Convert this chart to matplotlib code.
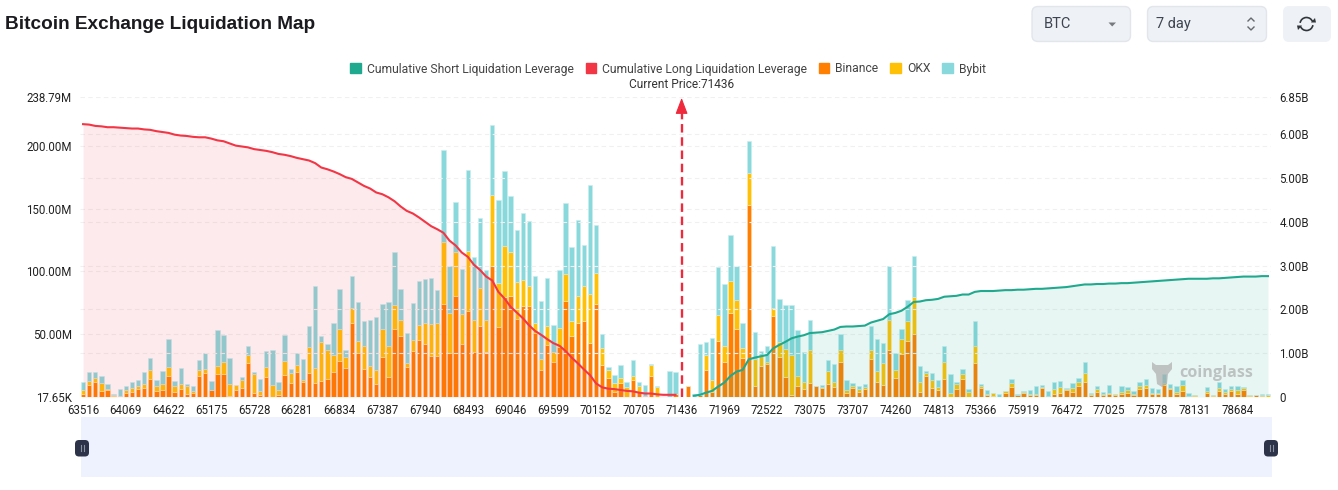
import matplotlib
matplotlib.use("Agg")
import matplotlib.pyplot as plt
from matplotlib.patches import FancyBboxPatch, Rectangle, Polygon, Ellipse, Arc, Patch
import numpy as np

W, H = 1338, 490
title = "Bitcoin Exchange Liquidation Map"
binance = [2.6,9.8,12.2,4.8,5.8,1,0,3.4,4,6.6,7.1,14.6,4.8,5.8,16.7,3.7,6.3,2.6,3.4,16.9,19,5.8,18.3,18.5,0.5,5.8,6.9,27.2,3.4,1.6,16.1,0.3,1.9,17.7,11.4,20.1,12.2,19.3,11.1,12.7,14,19.8,28.6,23,59,34.9,22.2,15.9,10.6,
 32,16.1,54,48.4,24,36.5,45.2,42,32.8,32.5,73.8,34.9,80.2,42,68.3,35.7,56.6,36.2,104.2,55.6,80,80.4,62.2,72.8,72.2,51,21.4,41.3,27.8,39.9,76.2,48.4,58.7,60.6,42.9,73.8,25.4,15.1,4.2,10.8,0.3,13.5,4,1,16.9,0,0.1,0.3,2.4,0,
 8.7,0,2,21.4,3.7,44.7,28,66.9,54,31,152.6,8.7,24.9,26.5,64.5,31.7,15.6,1.6,8.7,6.6,11.1,8.7,6.9,10.3,8.2,27.8,3.4,7.4,4.2,6.1,29.9,12.2,9.8,37.6,15.3,34.4,44.7,50.3,4.2,16.9,7.4,5.8,14.3,0,6.1,14.6,0,27.2,7.4,1.6,
 0.8,0,3.4,8.2,1.3,3.2,1.6,1.3,7.1,1,2.6,3.4,5.8,4.2,8.7,12.2,1.3,4.2,1.3,2.6,1.9,2.6,3.4,1.3,6.6,7.4,2.6,2.4,9.5,6.1,2.6,4.8,0.5,0.8,0.1,3.4,0.8,5,2.1,5,2.6,5.8,1,1.3,1,0.3]
okx = [2.9,2.9,3.2,6.1,0.3,0.8,0.5,2.1,3.2,1.9,3.4,6.9,4.2,4.5,7.1,5.3,3.7,6.3,1.1,4.8,3.7,0,6.6,9.5,9.8,3.4,6.9,6.1,15.1,3.2,7.4,9.5,4,10.8,7.4,5,1.6,20.6,12.2,30.7,23.3,14,25.7,8.5,11.9,9.3,18.8,9,10.6,
 22,24.6,19.6,12.7,3.4,8.7,12.4,16.9,25.4,26.2,49.2,31.7,34.9,24.1,47.9,25.9,29.9,25.1,56.9,35.4,40,34.7,29.6,20.6,16.4,7.9,8.5,15.6,8.2,15.3,22,11.9,21.9,27.5,39.4,25.1,13.8,6.6,6.9,4,7.4,3.4,5,0,8.5,8.2,0,0.1,0,0,
 0,0,0,11.9,9.5,20.9,12.4,25.1,23,8.2,25.4,21.2,7.7,1.6,6.3,11.9,22.5,31.7,7.9,5.3,26.5,0,1.3,10.3,4,9.5,2.4,1.6,1.9,1.6,7.7,8.2,17.5,23.8,6.3,11.6,15.6,29.4,7.9,2.1,5.8,1.9,13.8,3.4,4.5,4,4.2,13.5,1.3,0.5,
 2.4,0,1,2.6,0.5,0.5,1,1.3,0.8,0,4,4.5,0.8,3.2,3.4,7.1,0.8,1.9,1.3,0.5,0.5,1.6,2.1,1.3,2.4,1.9,0.3,0.5,1.9,1.3,1.6,4.5,0.5,0.5,0,1.3,0.5,2.4,1.9,1,3.2,1.6,0.3,0,0.3,1]
bybit = [6.6,6.9,4.8,6.1,4.5,0.8,5.8,2.9,4.8,4.8,9.5,9.8,4.8,10.2,22,3.4,13,1.1,4,7.4,12.4,6.9,28.3,21.4,20.4,0.2,2.4,7.7,1.1,9.8,13.5,27.8,6.1,21.2,3.7,9.8,16.1,16.9,64.8,5.3,4.8,24.9,31.5,5.6,25.7,31.7,19.8,36.2,42.6,
 20.4,34.9,42,24.6,23.8,29.4,34.4,34.9,36.5,26.2,73.5,37.6,40.2,36,64.8,49.5,56.1,39.9,55.3,65.6,60,45.2,41.5,53.2,51.6,37.6,46.8,37.6,21.4,46,56.1,59.3,60,33,86.5,38.4,10.8,1.9,6.6,10.3,4,12.2,2.6,8.5,0.5,0.3,0.1,20.3,17.7,0,
 0,2.1,40,10.6,34.1,37.6,49.7,36.8,27,19.8,25.4,22.2,3.7,12.7,49.5,34.1,34.9,40.2,36.8,24.3,24.1,0,1.6,8.5,14,13.2,7.4,2.1,2.9,2.4,19,25.7,15.6,42.6,13.8,8.5,16.7,32.3,12.4,1.6,5.8,5.8,12.2,15.3,1.3,3.7,2.1,20.1,1.6,3.4,
 0.3,2.1,0.3,3.4,0.3,0.8,2.9,6.1,1.6,3.7,5,4.5,0.8,3.4,2.9,8.5,1,2.6,1.3,6.1,0,4.5,2.6,2.1,3.2,5,4,3.2,6.9,2.9,4.5,4,1.9,0,0.1,3.2,0.3,4.5,2.6,2.6,2.9,0.5,0,0,0.8,0.8]
long_cum = [6.23,6.22,6.19,6.18,6.16,6.16,6.15,6.14,6.13,6.13,6.11,6.10,6.07,6.05,6.03,5.99,5.97,5.96,5.94,5.93,5.93,5.90,5.86,5.84,5.79,5.74,5.72,5.70,5.66,5.64,5.62,5.59,5.55,5.53,5.50,5.46,5.43,5.40,5.34,5.24,5.20,5.15,5.09,5.02,4.98,4.90,4.82,4.76,4.67,
 4.63,4.56,4.47,4.35,4.25,4.19,4.10,4.00,3.90,3.83,3.75,3.57,3.46,3.30,3.20,3.02,2.90,2.75,2.66,2.40,2.25,2.06,1.93,1.80,1.64,1.51,1.42,1.32,1.23,1.17,1.05,0.90,0.77,0.63,0.50,0.31,0.22,0.19,0.18,0.16,0.14,0.13,0.10,0.08,0.08,0.06,0.05,0.05,0.05]
short_cum = [.03,.05,.10,.14,.24,.33,.48,.58,.62,.86,.90,.93,.96,1.11,1.19,1.26,1.34,1.38,1.41,1.46,1.47,1.48,1.51,1.54,1.60,1.61,1.61,1.62,1.63,1.70,1.74,1.78,1.89,1.92,1.97,2.06,2.17,2.18,2.21,2.22,2.24,2.29,2.30,2.31,2.34,2.34,2.40,2.42,2.42,
 2.42,2.43,2.44,2.44,2.45,2.45,2.46,2.47,2.47,2.48,2.49,2.50,2.51,2.53,2.55,2.57,2.57,2.58,2.58,2.59,2.59,2.60,2.60,2.61,2.62,2.63,2.64,2.65,2.66,2.67,2.68,2.69,2.70,2.70,2.70,2.70,2.71,2.71,2.72,2.73,2.74,2.75,2.75,2.75,2.76,2.76]
tick_prices = ["63516","64069","64622","65175","65728","66281","66834","67387","67940","68493","69046","69599","70152","70705","71436","71969","72522","73075","73707","74260","74813","75366","75919","76472","77025","77578","78131","78684"]
left_ticks = [0.01765, 50, 100, 150, 200, 238.79]
left_labels = ["17.65K", "50.00M", "100.00M", "150.00M", "200.00M", "238.79M"]
right_ticks = [0, 1, 2, 3, 4, 5, 6, 6.85]
right_labels = ["0", "1.00B", "2.00B", "3.00B", "4.00B", "5.00B", "6.00B", "6.85B"]
current_price = 71436
current_index = 98

C_BIN, C_OKX, C_BYB = "#FF7F00", "#FFC107", "#88D8DC"
C_RED, C_GRN = "#F23645", "#1FA98E"
FONT = "Roboto"
plt.rcParams["font.family"] = [FONT, "DejaVu Sans"]

fig = plt.figure(figsize=(W/100, H/100), dpi=100, facecolor="white")
L, R, T, B = 80, 1271, 97, 397
ax = fig.add_axes([L/W, 1-B/H, (R-L)/W, (B-T)/H])
ax2 = ax.twinx()
ax2.set_position(ax.get_position())

n = len(binance)
x = np.arange(n)
b, o, y = np.array(binance, float), np.array(okx, float), np.array(bybit, float)
kw = dict(width=0.72, linewidth=0.6)
ax.bar(x, b, color=C_BIN, edgecolor=(1, 0.85, 0.7, 0.6), label="Binance", **kw)
ax.bar(x, o, bottom=b, color=C_OKX, edgecolor=(1, 0.93, 0.7, 0.6), label="OKX", **kw)
ax.bar(x, y, bottom=b+o, color=C_BYB, edgecolor=(0.8, 0.93, 0.94, 0.7), label="Bybit", **kw)
ax.set_xlim(-0.5, n-0.5)
ax.set_ylim(0.01765, 238.79)
ax.set_yticks(left_ticks, left_labels)
ax.set_xticks(np.arange(0, n, 7)[:len(tick_prices)], tick_prices)
ax.tick_params(axis="both", length=0, labelsize=8.3, colors="#222222")
ax.tick_params(axis="x", pad=5)
ax.tick_params(axis="y", pad=6)
ax.set_axisbelow(True)
grid = dict(color="#F0F0F0", linewidth=0.8, linestyle=(0, (4, 3)))
for v in left_ticks[1:]:
    ax.axhline(v, zorder=0, **grid)
for spine in list(ax.spines.values()) + list(ax2.spines.values()):
    spine.set_visible(False)

xl = np.arange(len(long_cum))
xs = np.arange(100, 100+len(short_cum))
ax2.set_ylim(0, 6.85)
ax2.set_yticks(right_ticks, right_labels)
ax2.tick_params(axis="y", length=0, labelsize=8.3, colors="#222222", pad=6)
for v in right_ticks[1:-1]:
    ax2.axhline(v, zorder=0, **grid)
ax2.fill_between(xl, long_cum, 0, color=C_RED, alpha=0.10, linewidth=0)
ax2.fill_between(xs, short_cum, 0, color=C_GRN, alpha=0.10, linewidth=0)
ax2.plot(xl, long_cum, color=C_RED, lw=1.5, label="Cumulative Long Liquidation Leverage")
ax2.plot(xs, short_cum, color=C_GRN, lw=1.5, label="Cumulative Short Liquidation Leverage")

# current price marker
ax2.plot([current_index]*2, [0, 6.5], color="#EE2A3C", lw=1.7, linestyle=(0, (3.6, 2)))
ax2.annotate("", xy=(current_index, 6.83), xytext=(current_index, 6.45),
             arrowprops=dict(arrowstyle="-|>,head_length=1.0,head_width=0.38", color="#EE2A3C", lw=0.8, shrinkA=0, shrinkB=0))
fig.text(682/W, 1-85/H, f"Current Price:{current_price}", ha="center", va="center", fontsize=8.6, color="#333333")

# legend
handles = [Patch(color=C_GRN), Patch(color=C_RED), Patch(color=C_BIN), Patch(color=C_OKX), Patch(color=C_BYB)]
labels = ["Cumulative Short Liquidation Leverage", "Cumulative Long Liquidation Leverage", "Binance", "OKX", "Bybit"]
fig.legend(handles, labels, ncol=5, loc="center", bbox_to_anchor=(668/W, 1-69/H), frameon=False, fontsize=8.7,
           handlelength=0.85, handleheight=0.85, handletextpad=0.5, columnspacing=1.0, labelcolor="#444444",
           borderpad=0, borderaxespad=0)

# overlay in pixel coordinates
ov = fig.add_axes([0, 0, 1, 1], facecolor="none")
ov.set_xlim(0, W); ov.set_ylim(H, 0); ov.axis("off")
ov.text(5, 24.5, title, fontsize=13.7, fontweight="bold", family="Liberation Sans", color="#1B1B1F", va="center", ha="left")

def box(x0, y0, x1, y1, fc, ec="none", r=6, lw=1):
    ov.add_patch(FancyBboxPatch((x0+r, y0+r), x1-x0-2*r, y1-y0-2*r, boxstyle=f"round,pad={r},rounding_size={r}", fc=fc, ec=ec, lw=lw))
box(1032, 6.5, 1130.5, 41.5, "#EEF1F5", "#E2E6EB")
box(1147.5, 6.5, 1266.5, 41.5, "#EEF1F5", "#E2E6EB")
box(1283, 6, 1331, 42, "#EEF1F5")
ov.text(1043.5, 24, "BTC", fontsize=10.5, color="#3C4550", va="center")
ov.text(1155.5, 24, "7 day", fontsize=10.5, color="#3C4550", va="center")
ov.add_patch(Polygon([[1108.5, 22.5], [1116, 22.5], [1112.2, 26.5]], fc="#777B80"))
ov.plot([1248, 1251, 1254], [21, 18, 21], color="#666A70", lw=1)
ov.plot([1248, 1251, 1254], [27, 30, 27], color="#666A70", lw=1)
ov.add_patch(Arc((1306.5, 24), 13, 13, theta1=190, theta2=340, color="#30363C", lw=1.2))
ov.add_patch(Arc((1306.5, 24), 13, 13, theta1=10, theta2=160, color="#30363C", lw=1.2))
ov.add_patch(Polygon([[1311, 22.5], [1316, 22.5], [1315, 18]], fc="#30363C"))
ov.add_patch(Polygon([[1297, 25.5], [1302, 25.5], [1298, 30]], fc="#30363C"))

# range slider
ov.add_patch(Rectangle((81, 417), 1191, 60, fc="#EEF2FE", ec="none"))
for hx in (82, 1271):
    box(hx-7, 440, hx+7, 456.5, "#2D3348", r=4)
    ov.plot([hx-1.5]*2, [445, 451], color="#8A90A0", lw=0.8)
    ov.plot([hx+1.5]*2, [445, 451], color="#8A90A0", lw=0.8)

# watermark
wm = dict(fc="#A8A8A8", alpha=0.65, ec="none")
ov.text(1179, 373, "coinglass", fontsize=11.6, fontweight="bold", family="Open Sans", color="#A0A0A0", alpha=0.6, va="center", ha="left")
ov.add_patch(Polygon([[1152, 362], [1156, 365], [1168, 365], [1172, 362], [1172, 369], [1168, 374], [1167, 384],
                      [1162, 387], [1157, 384], [1156, 374], [1152, 369]], **wm))

fig.savefig("out.png", dpi=100, facecolor="white")
